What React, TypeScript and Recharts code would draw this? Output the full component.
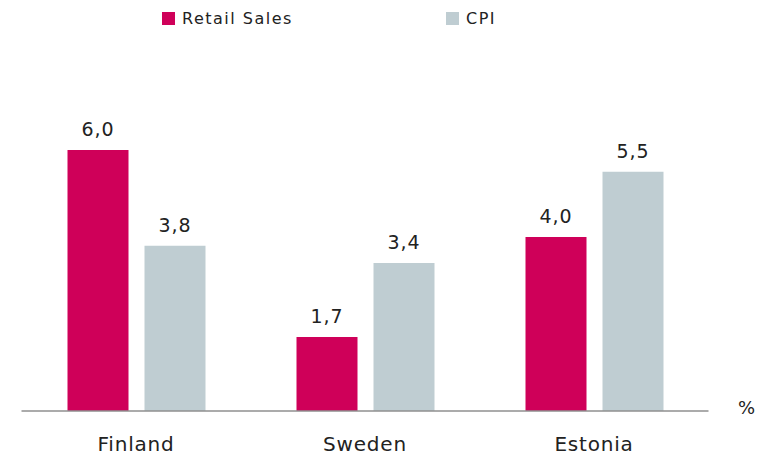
import { BarChart, Bar, XAxis, YAxis, LabelList } from 'recharts'

const countries = ['Finland', 'Sweden', 'Estonia']
const retailSales = [6.0, 1.7, 4.0]
const cpi = [3.8, 3.4, 5.5]

const data = countries.map((country, i) => ({
    country,
    retail: retailSales[i],
    cpi: cpi[i],
}))

const RED = '#cf0059'
const GREY = '#bfcdd2'
const FONT = '"DejaVu Sans", sans-serif'

const fmt = (v: number) => v.toFixed(1).replace('.', ',')

function CategoryTick({ x, y, payload }: any) {
    return (
        <text
            x={x}
            y={y}
            dy={32}
            textAnchor="middle"
            fill="#222"
            fontSize={20}
            letterSpacing={0.8}
            fontFamily={FONT}
        >
            {payload.value}
        </text>
    )
}

function LegendItem({ left, color, label }: { left: number; color: string; label: string }) {
    return (
        <div style={{ position: 'absolute', left, top: 12, display: 'flex', alignItems: 'center' }}>
            <div style={{ width: 13, height: 13, background: color }} />
            <span
                style={{
                    marginLeft: 7,
                    fontSize: 16,
                    letterSpacing: 1.5,
                    color: '#222',
                    fontFamily: FONT,
                    lineHeight: '13px',
                }}
            >
                {label}
            </span>
        </div>
    )
}

export default function App() {
    return (
        <div style={{ position: 'absolute', left: 0, top: 0, width: 757, height: 456, background: '#fff' }}>
            <LegendItem left={162} color={RED} label="Retail Sales" />
            <LegendItem left={446} color={GREY} label="CPI" />
            <span
                style={{
                    position: 'absolute',
                    left: 738,
                    top: 397,
                    fontSize: 18,
                    color: '#222',
                    fontFamily: FONT,
                }}
            >
                %
            </span>
            <BarChart
                width={757}
                height={456}
                data={data}
                margin={{ top: 63, right: 48.5, bottom: 0, left: 21.5 }}
                barSize={61}
                barGap={16}
            >
                <XAxis
                    dataKey="country"
                    height={45}
                    tickLine={false}
                    axisLine={{ stroke: '#8f8f8f', strokeWidth: 1.5 }}
                    tick={<CategoryTick />}
                    interval={0}
                />
                <YAxis hide domain={[0, 8]} />
                <Bar dataKey="retail" fill={RED} isAnimationActive={false}>
                    <LabelList
                        dataKey="retail"
                        position="top"
                        offset={14}
                        formatter={fmt}
                        fill="#222"
                        fontSize={19}
                        letterSpacing={1}
                        fontFamily={FONT}
                    />
                </Bar>
                <Bar dataKey="cpi" fill={GREY} isAnimationActive={false}>
                    <LabelList
                        dataKey="cpi"
                        position="top"
                        offset={14}
                        formatter={fmt}
                        fill="#222"
                        fontSize={19}
                        letterSpacing={1}
                        fontFamily={FONT}
                    />
                </Bar>
            </BarChart>
        </div>
    )
}
